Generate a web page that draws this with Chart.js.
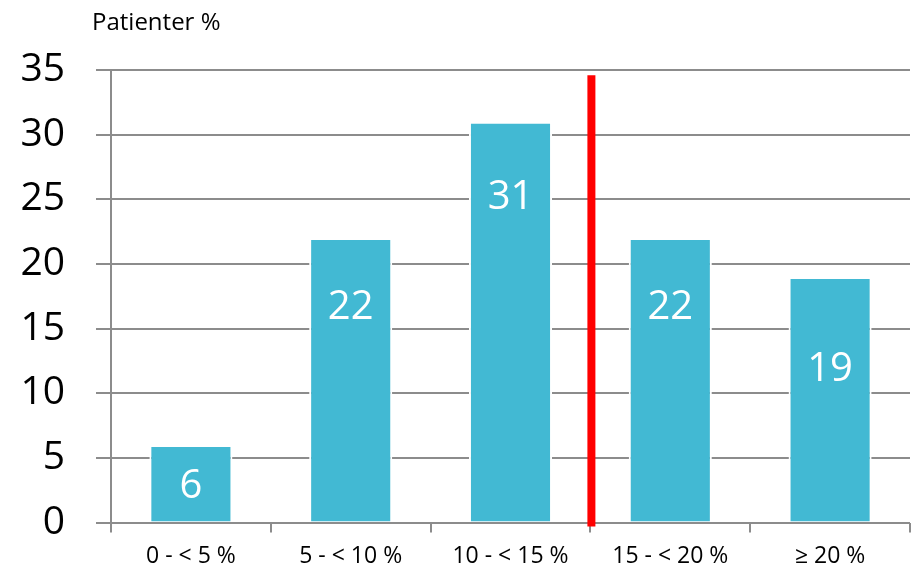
<!DOCTYPE html>
<html lang="da">
<head>
<meta charset="UTF-8">
<title>Patienter %</title>
<script src="https://cdn.jsdelivr.net/npm/chart.js"></script>
<style>
  html, body { margin: 0; padding: 0; background: #fff; }
  #wrap { position: relative; width: 912px; height: 577px; }
</style>
</head>
<body>
<div id="wrap"><canvas id="chart" width="912" height="577"></canvas></div>
<script>
// data
const categories = ['0 - < 5 %', '5 - < 10 %', '10 - < 15 %', '15 - < 20 %', '\u2265 20 %'];
const patients = [6, 22, 31, 22, 19];
// where the white value labels sit (in axis units)
const labelAt = [2.8, 16.6, 25.1, 16.6, 11.8];
const yTicks = [0, 5, 10, 15, 20, 25, 30, 35];
const axisTitle = 'Patienter %';
const markerAt = 2.5; // red line between 10-<15 and 15-<20
const markerTop = 34.6;

const FONT = '"Open Sans", "DejaVu Sans", sans-serif';
const GRID = '#8c8c8c';

const extras = {
  id: 'extras',
  afterDatasetsDraw(chart) {
    const ctx = chart.ctx;
    const x = chart.scales.x, y = chart.scales.y;
    ctx.save();
    // value labels inside bars
    ctx.fillStyle = '#ffffff';
    ctx.font = '40px ' + FONT;
    ctx.textAlign = 'center';
    ctx.textBaseline = 'middle';
    patients.forEach((v, i) => {
      ctx.fillText(String(v), x.getPixelForValue(i), y.getPixelForValue(labelAt[i]));
    });
    // red marker line
    const px = x.getPixelForValue(markerAt) + 1;
    ctx.strokeStyle = '#ff0000';
    ctx.lineWidth = 8;
    ctx.beginPath();
    ctx.moveTo(px, y.getPixelForValue(markerTop));
    ctx.lineTo(px, y.getPixelForValue(0) + 4);
    ctx.stroke();
    // axis title top-left
    ctx.fillStyle = '#000000';
    ctx.font = '24px ' + FONT;
    ctx.textAlign = 'left';
    ctx.textBaseline = 'alphabetic';
    ctx.fillText(axisTitle, 92, 30);
    ctx.restore();
  }
};

new Chart(document.getElementById('chart'), {
  type: 'bar',
  data: {
    labels: categories,
    datasets: [{
      data: patients,
      backgroundColor: '#42b9d3',
      borderColor: '#ffffff',
      borderWidth: 2,
      borderSkipped: 'bottom',
      barPercentage: 0.52,
      categoryPercentage: 1
    }]
  },
  options: {
    responsive: false,
    animation: false,
    layout: { padding: { top: 70, right: 2, left: 0, bottom: 0 } },
    plugins: {
      legend: { display: false },
      tooltip: { enabled: false }
    },
    scales: {
      x: {
        offset: true,
        grid: {
          offset: true,
          drawOnChartArea: false,
          drawTicks: true,
          tickLength: 10,
          color: GRID,
          lineWidth: 2
        },
        border: { display: false },
        ticks: {
          color: '#000',
          font: { family: FONT, size: 23 },
          padding: 10,
          maxRotation: 0
        },
        afterFit(s) { s.height = 54; }
      },
      y: {
        min: 0,
        max: 35,
        afterBuildTicks(s) { s.ticks = yTicks.map(v => ({ value: v })); },
        grid: {
          color: GRID,
          lineWidth: 2,
          drawTicks: true,
          tickLength: 15
        },
        border: { display: true, color: GRID, width: 2 },
        ticks: {
          color: '#000',
          font: { family: FONT, size: 39 },
          padding: 31
        },
        afterFit(s) { s.width = 111; }
      }
    }
  },
  plugins: [extras]
});
</script>
</body>
</html>
